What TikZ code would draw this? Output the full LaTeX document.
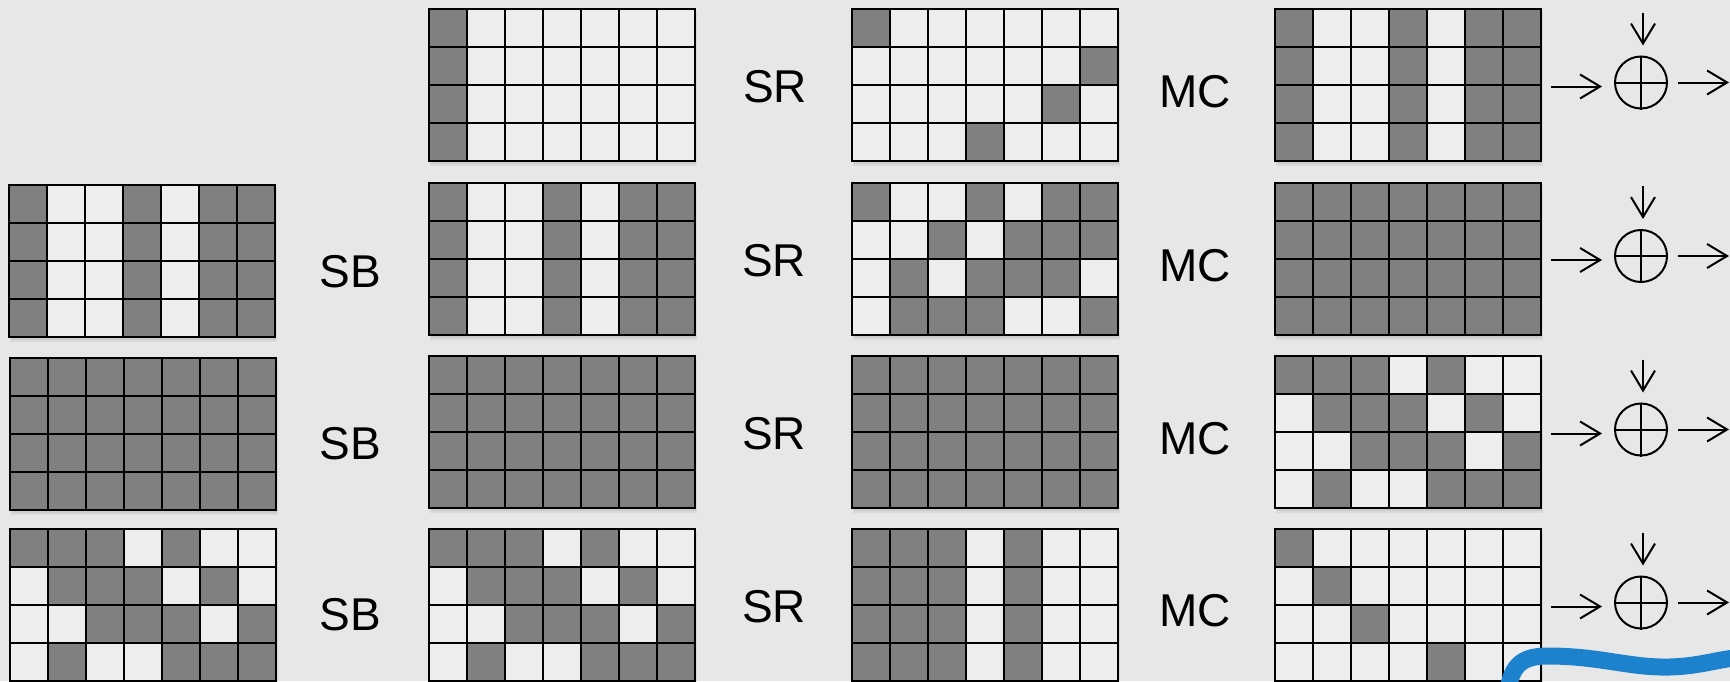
\documentclass[tikz,border=0pt]{standalone}
\usepackage{fontspec}
\setmainfont{Liberation Sans}
\usetikzlibrary{arrows.meta}
\definecolor{bg}{RGB}{231,231,231}
\definecolor{cellgray}{RGB}{128,128,128}
\definecolor{brush}{RGB}{28,130,205}
\newcommand{\cellgrid}[3]{%
  \fill[black,opacity=0.06] ({#1+1},{#2+3}) rectangle ({#1+268},{#2+157});
  \fill[black,opacity=0.06] ({#1+2},{#2+2}) rectangle ({#1+267},{#2+155});
  \fill[white!93!black] (#1,#2) rectangle ({#1+266},{#2+152});
  \foreach \rowpat [count=\ri] in {#3} {%
    \foreach \b [count=\ci] in \rowpat {%
      \ifnum\b=1\relax
        \fill[cellgray] ({#1+(\ci-1)*38},{#2+(\ri-1)*38}) rectangle ++(38,38);
      \fi
    }%
  }%
  \foreach \i in {0,...,7} {\draw[gridline] ({#1+\i*38},#2) -- ++(0,152);}
  \foreach \j in {0,...,4} {\draw[gridline] (#1,{#2+\j*38}) -- ++(266,0);}
}
\begin{document}
\begin{tikzpicture}[x=0.5pt,y=-0.5pt,
  gridline/.style={line width=1pt,black,line cap=rect},
  lbl/.style={font=\fontsize{23}{23}\selectfont,inner sep=0pt,text=black},
  xor/.style={circle,draw,line width=1pt,minimum size=26pt,inner sep=0pt},
  arr/.style={line width=1pt,-{Straight Barb[length=10pt,width=12pt]}},
  cross/.style={line width=1pt}]
\useasboundingbox (0,0) rectangle (1730,681);
\fill[bg] (0,0) rectangle (1730,681);
% Row 1
\cellgrid{429}{9}{{1,0,0,0,0,0,0},{1,0,0,0,0,0,0},{1,0,0,0,0,0,0},{1,0,0,0,0,0,0}}
\cellgrid{852}{9}{{1,0,0,0,0,0,0},{0,0,0,0,0,0,1},{0,0,0,0,0,1,0},{0,0,0,1,0,0,0}}
\cellgrid{1275}{9}{{1,0,0,1,0,1,1},{1,0,0,1,0,1,1},{1,0,0,1,0,1,1},{1,0,0,1,0,1,1}}
% Row 2
\cellgrid{9}{185}{{1,0,0,1,0,1,1},{1,0,0,1,0,1,1},{1,0,0,1,0,1,1},{1,0,0,1,0,1,1}}
\cellgrid{429}{183}{{1,0,0,1,0,1,1},{1,0,0,1,0,1,1},{1,0,0,1,0,1,1},{1,0,0,1,0,1,1}}
\cellgrid{852}{183}{{1,0,0,1,0,1,1},{0,0,1,0,1,1,1},{0,1,0,1,1,1,0},{0,1,1,1,0,0,1}}
\cellgrid{1275}{183}{{1,1,1,1,1,1,1},{1,1,1,1,1,1,1},{1,1,1,1,1,1,1},{1,1,1,1,1,1,1}}
% Row 3
\cellgrid{10}{358}{{1,1,1,1,1,1,1},{1,1,1,1,1,1,1},{1,1,1,1,1,1,1},{1,1,1,1,1,1,1}}
\cellgrid{429}{356}{{1,1,1,1,1,1,1},{1,1,1,1,1,1,1},{1,1,1,1,1,1,1},{1,1,1,1,1,1,1}}
\cellgrid{852}{356}{{1,1,1,1,1,1,1},{1,1,1,1,1,1,1},{1,1,1,1,1,1,1},{1,1,1,1,1,1,1}}
\cellgrid{1275}{356}{{1,1,1,0,1,0,0},{0,1,1,1,0,1,0},{0,0,1,1,1,0,1},{0,1,0,0,1,1,1}}
% Row 4
\cellgrid{10}{529}{{1,1,1,0,1,0,0},{0,1,1,1,0,1,0},{0,0,1,1,1,0,1},{0,1,0,0,1,1,1}}
\cellgrid{429}{529}{{1,1,1,0,1,0,0},{0,1,1,1,0,1,0},{0,0,1,1,1,0,1},{0,1,0,0,1,1,1}}
\cellgrid{852}{529}{{1,1,1,0,1,0,0},{1,1,1,0,1,0,0},{1,1,1,0,1,0,0},{1,1,1,0,1,0,0}}
\cellgrid{1275}{529}{{1,0,0,0,0,0,0},{0,1,0,0,0,0,0},{0,0,1,0,0,0,0},{0,0,0,0,1,0,0}}
% Labels
\node[lbl] (sr1) at (775,87) {SR};
\node[lbl] (mc1) at (1195,92) {MC};
\node[lbl] (sb2) at (350,272) {SB};
\node[lbl] (sr2) at (774,261) {SR};
\node[lbl] (mc2) at (1195,266) {MC};
\node[lbl] (sb3) at (350,444) {SB};
\node[lbl] (sr3) at (774,434) {SR};
\node[lbl] (mc3) at (1195,439) {MC};
\node[lbl] (sb4) at (350,615) {SB};
\node[lbl] (sr4) at (774,607) {SR};
\node[lbl] (mc4) at (1195,611) {MC};
% XOR blocks
\foreach \k/\c in {1/82.5,2/256,3/429.5,4/602.5} {
  \node[xor] (x\k) at (1641,\c) {};
  \draw[cross] (x\k.north) -- (x\k.south) (x\k.west) -- (x\k.east);
  \coordinate (t\k) at (1643,{\c-70});
  \draw[arr,shorten >=5pt] (t\k) -- (t\k |- x\k.north);
  \coordinate (l\k) at (1551,{\c+4});
  \draw[arr,shorten >=6pt] (l\k) -- (l\k -| x\k.west);
  \coordinate (r\k) at (1729,{\c+1.5});
  \draw[arr,shorten <=5pt] (x\k.east) -- (x\k.east -| r\k);
}
% blue brush stroke
\draw[brush,line width=8.5pt,line cap=round]
  (1508,690) .. controls (1512,665) and (1522,656) .. (1548,656)
  .. controls (1600,656) and (1630,668) .. (1670,667)
  .. controls (1700,666) and (1715,660) .. (1735,658);
\end{tikzpicture}
\end{document}
